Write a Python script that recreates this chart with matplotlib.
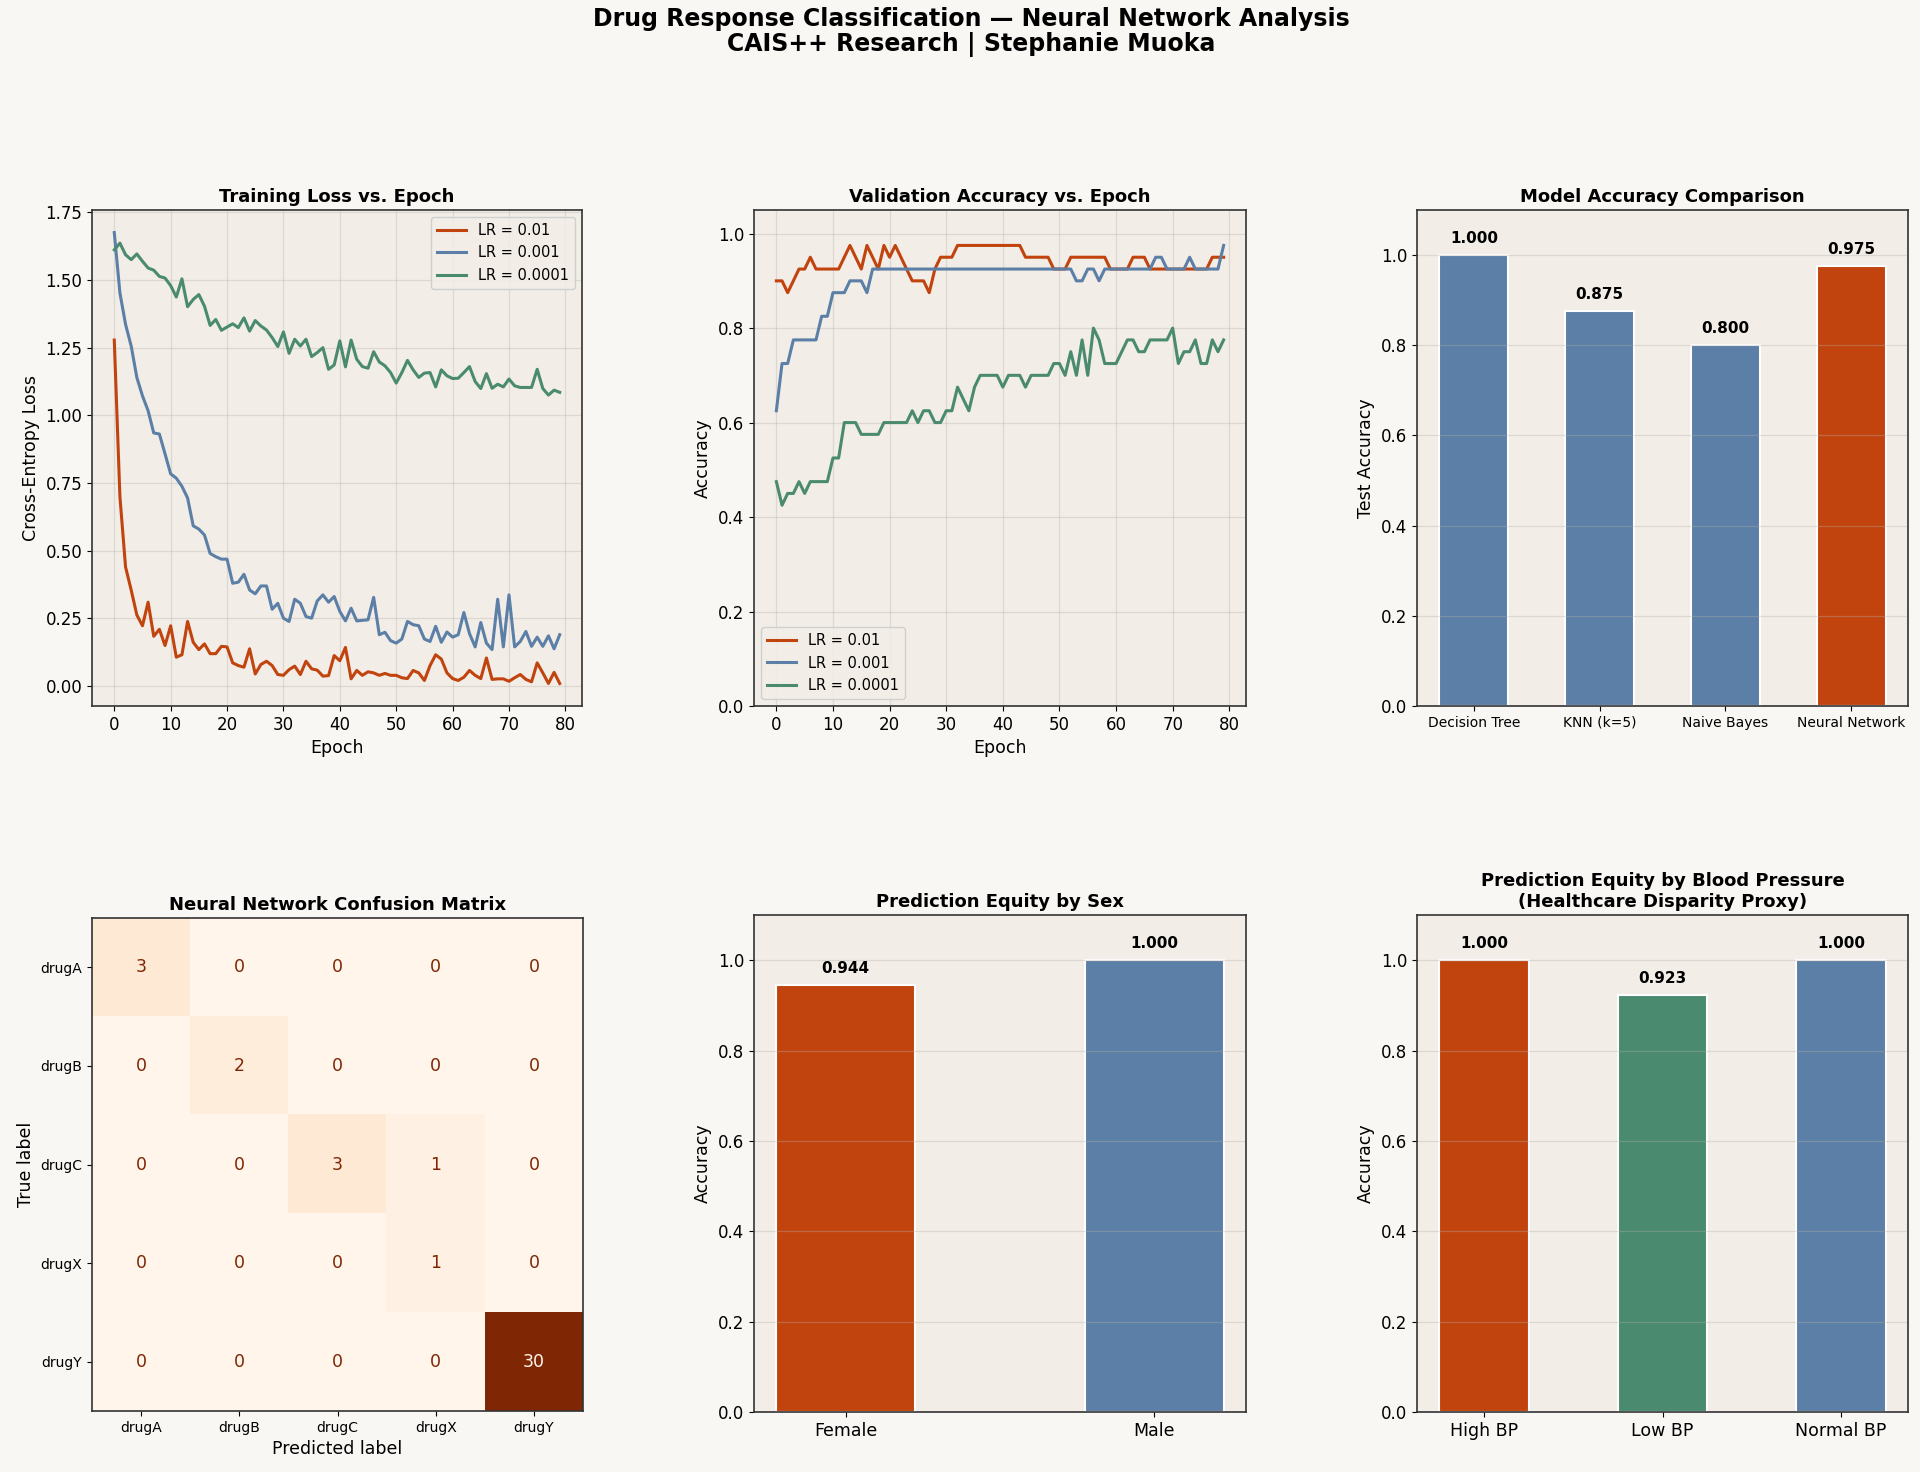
"""Drug response classification dashboard: training curves, model comparison, fairness bars."""

import matplotlib
matplotlib.use("Agg")
import matplotlib.pyplot as plt
import numpy as np

# ---- data ----
EPOCHS = list(range(80))

LOSS_LR_01 = [1.278, 0.70, 0.44, 0.355, 0.263, 0.223, 0.31, 0.184, 0.21, 0.15,
              0.223, 0.107, 0.116, 0.239, 0.162, 0.135, 0.156, 0.12, 0.12, 0.147,
              0.145, 0.086, 0.076, 0.07, 0.138, 0.045, 0.08, 0.092, 0.076, 0.043,
              0.04, 0.061, 0.074, 0.043, 0.092, 0.064, 0.059, 0.037, 0.039, 0.113,
              0.094, 0.143, 0.027, 0.058, 0.04, 0.053, 0.049, 0.04, 0.047, 0.04,
              0.04, 0.031, 0.028, 0.058, 0.049, 0.021, 0.076, 0.116, 0.10, 0.049,
              0.028, 0.021, 0.033, 0.058, 0.04, 0.028, 0.104, 0.025, 0.027, 0.027,
              0.018, 0.031, 0.043, 0.025, 0.016, 0.086, 0.049, 0.01, 0.051, 0.01]
LOSS_LR_001 = [1.675, 1.452, 1.336, 1.256, 1.14, 1.072, 1.017, 0.935, 0.931, 0.858,
               0.784, 0.768, 0.738, 0.695, 0.592, 0.58, 0.558, 0.49, 0.478, 0.469,
               0.469, 0.38, 0.384, 0.413, 0.355, 0.341, 0.37, 0.37, 0.284, 0.306,
               0.251, 0.239, 0.321, 0.306, 0.257, 0.251, 0.315, 0.337, 0.31, 0.331,
               0.276, 0.241, 0.288, 0.241, 0.243, 0.245, 0.328, 0.19, 0.199, 0.168,
               0.159, 0.174, 0.239, 0.227, 0.223, 0.174, 0.165, 0.221, 0.162, 0.20,
               0.181, 0.19, 0.272, 0.194, 0.145, 0.235, 0.159, 0.135, 0.321, 0.145,
               0.337, 0.145, 0.165, 0.202, 0.147, 0.181, 0.147, 0.186, 0.138, 0.19]
LOSS_LR_0001 = [1.611, 1.636, 1.593, 1.575, 1.596, 1.569, 1.544, 1.536, 1.513, 1.507,
                1.479, 1.437, 1.504, 1.401, 1.428, 1.446, 1.403, 1.332, 1.354, 1.314,
                1.326, 1.338, 1.324, 1.36, 1.311, 1.35, 1.33, 1.315, 1.287, 1.254,
                1.308, 1.229, 1.281, 1.256, 1.281, 1.217, 1.232, 1.25, 1.17, 1.186,
                1.275, 1.179, 1.278, 1.207, 1.18, 1.174, 1.235, 1.197, 1.183, 1.158,
                1.119, 1.158, 1.203, 1.168, 1.14, 1.156, 1.158, 1.105, 1.168, 1.146,
                1.136, 1.137, 1.158, 1.18, 1.125, 1.099, 1.154, 1.10, 1.115, 1.105,
                1.134, 1.109, 1.103, 1.103, 1.103, 1.17, 1.099, 1.075, 1.093, 1.085]

ACC_LR_01 = [0.9, 0.9, 0.875, 0.9, 0.925, 0.925, 0.95, 0.925, 0.925, 0.925,
             0.925, 0.925, 0.95, 0.975, 0.95, 0.925, 0.975, 0.95, 0.925, 0.975,
             0.95, 0.975, 0.95, 0.925, 0.9, 0.9, 0.9, 0.875, 0.925, 0.95,
             0.95, 0.95, 0.975, 0.975, 0.975, 0.975, 0.975, 0.975, 0.975, 0.975,
             0.975, 0.975, 0.975, 0.975, 0.95, 0.95, 0.95, 0.95, 0.95, 0.925,
             0.925, 0.925, 0.95, 0.95, 0.95, 0.95, 0.95, 0.95, 0.95, 0.925,
             0.925, 0.925, 0.925, 0.95, 0.95, 0.95, 0.925, 0.925, 0.925, 0.925,
             0.925, 0.925, 0.925, 0.925, 0.925, 0.925, 0.925, 0.95, 0.95, 0.95]
ACC_LR_001 = [0.625, 0.725, 0.725, 0.775, 0.775, 0.775, 0.775, 0.775, 0.825, 0.825,
              0.875, 0.875, 0.875, 0.9, 0.9, 0.9, 0.875, 0.925, 0.925, 0.925,
              0.925, 0.925, 0.925, 0.925, 0.925, 0.925, 0.925, 0.925, 0.925, 0.925,
              0.925, 0.925, 0.925, 0.925, 0.925, 0.925, 0.925, 0.925, 0.925, 0.925,
              0.925, 0.925, 0.925, 0.925, 0.925, 0.925, 0.925, 0.925, 0.925, 0.925,
              0.925, 0.925, 0.925, 0.9, 0.9, 0.925, 0.925, 0.9, 0.925, 0.925,
              0.925, 0.925, 0.925, 0.925, 0.925, 0.925, 0.925, 0.95, 0.95, 0.925,
              0.925, 0.925, 0.925, 0.95, 0.925, 0.925, 0.925, 0.925, 0.925, 0.975]
ACC_LR_0001 = [0.475, 0.425, 0.45, 0.45, 0.475, 0.45, 0.475, 0.475, 0.475, 0.475,
               0.525, 0.525, 0.6, 0.6, 0.6, 0.575, 0.575, 0.575, 0.575, 0.6,
               0.6, 0.6, 0.6, 0.6, 0.625, 0.6, 0.625, 0.625, 0.6, 0.6,
               0.625, 0.625, 0.675, 0.65, 0.625, 0.675, 0.7, 0.7, 0.7, 0.7,
               0.675, 0.7, 0.7, 0.7, 0.675, 0.7, 0.7, 0.7, 0.7, 0.725,
               0.725, 0.7, 0.75, 0.7, 0.775, 0.7, 0.8, 0.775, 0.725, 0.725,
               0.725, 0.75, 0.775, 0.775, 0.75, 0.75, 0.775, 0.775, 0.775, 0.775,
               0.8, 0.725, 0.75, 0.75, 0.775, 0.725, 0.725, 0.775, 0.75, 0.775]

MODELS = ["Decision Tree", "KNN (k=5)", "Naive Bayes", "Neural Network"]
MODEL_ACC = [1.000, 0.875, 0.800, 0.975]

DRUGS = ["drugA", "drugB", "drugC", "drugX", "drugY"]
CONFUSION = [[3, 0, 0, 0, 0],
             [0, 2, 0, 0, 0],
             [0, 0, 3, 1, 0],
             [0, 0, 0, 1, 0],
             [0, 0, 0, 0, 30]]

SEX_GROUPS = ["Female", "Male"]
SEX_ACC = [0.944, 1.000]

BP_GROUPS = ["High BP", "Low BP", "Normal BP"]
BP_ACC = [1.000, 0.923, 1.000]

# ---- style ----
RUST = "#C1440E"
BLUE = "#5B7FA6"
GREEN = "#4A8B6F"
FIG_BG = "#F9F7F4"
AX_BG = "#F2EDE7"

plt.rcParams.update({
    "font.family": "DejaVu Sans",
    "font.size": 12,
    "axes.facecolor": AX_BG,
    "figure.facecolor": FIG_BG,
    "axes.edgecolor": "#333333",
    "axes.linewidth": 1.2,
    "axes.titlesize": 13,
    "axes.titleweight": "bold",
    "axes.labelsize": 12.5,
    "xtick.labelsize": 12,
    "ytick.labelsize": 12,
    "grid.color": "#b8b0a8",
    "grid.alpha": 0.35,
    "grid.linewidth": 0.9,
    "legend.fontsize": 10.5,
})

fig = plt.figure(figsize=(19.2, 14.72), dpi=100)
W, H = 1920, 1472


def place(x0, y0, x1, y1):
    return fig.add_axes([x0 / W, 1 - y1 / H, (x1 - x0) / W, (y1 - y0) / H])


ax_loss = place(92, 210, 582, 706)
ax_val = place(754, 210, 1246, 706)
ax_cmp = place(1417, 210, 1908, 706)
ax_cm = place(92, 918, 583, 1411)
ax_sex = place(754, 915, 1246, 1412)
ax_bp = place(1417, 915, 1908, 1412)

# training loss
ax_loss.plot(EPOCHS, LOSS_LR_01, color=RUST, lw=2.2, label="LR = 0.01")
ax_loss.plot(EPOCHS, LOSS_LR_001, color=BLUE, lw=2.2, label="LR = 0.001")
ax_loss.plot(EPOCHS, LOSS_LR_0001, color=GREEN, lw=2.2, label="LR = 0.0001")
ax_loss.set_title("Training Loss vs. Epoch")
ax_loss.set_xlabel("Epoch")
ax_loss.set_ylabel("Cross-Entropy Loss")
ax_loss.set_xticks(range(0, 81, 10))
ax_loss.grid(True)
ax_loss.legend(loc="upper right", fancybox=True, framealpha=0.9)

# validation accuracy
ax_val.plot(EPOCHS, ACC_LR_01, color=RUST, lw=2.2, label="LR = 0.01")
ax_val.plot(EPOCHS, ACC_LR_001, color=BLUE, lw=2.2, label="LR = 0.001")
ax_val.plot(EPOCHS, ACC_LR_0001, color=GREEN, lw=2.2, label="LR = 0.0001")
ax_val.set_title("Validation Accuracy vs. Epoch")
ax_val.set_xlabel("Epoch")
ax_val.set_ylabel("Accuracy")
ax_val.set_ylim(0, 1.05)
ax_val.set_xticks(range(0, 81, 10))
ax_val.grid(True)
ax_val.legend(loc="lower left", fancybox=True, framealpha=0.9)


def bar_panel(ax, labels, values, colors, width, title, ylabel, tick_size):
    x = np.arange(len(labels))
    ax.bar(x, values, width=width, color=colors, edgecolor="white", linewidth=1.5)
    for xi, v in zip(x, values):
        ax.text(xi, v + 0.02, f"{v:.3f}", ha="center", va="bottom",
                fontsize=11, fontweight="bold")
    ax.set_xticks(x)
    ax.set_xticklabels(labels, fontsize=tick_size)
    ax.set_ylim(0, 1.1)
    ax.set_title(title)
    ax.set_ylabel(ylabel)
    ax.grid(True, axis="y")


bar_panel(ax_cmp, MODELS, MODEL_ACC, [BLUE, BLUE, BLUE, RUST], 0.55,
          "Model Accuracy Comparison", "Test Accuracy", 10)
bar_panel(ax_sex, SEX_GROUPS, SEX_ACC, [RUST, BLUE], 0.45,
          "Prediction Equity by Sex", "Accuracy", 12.5)
bar_panel(ax_bp, BP_GROUPS, BP_ACC, [RUST, GREEN, BLUE], 0.5,
          "Prediction Equity by Blood Pressure\n(Healthcare Disparity Proxy)", "Accuracy", 12.5)

# confusion matrix
cm = np.array(CONFUSION)
cmap = plt.get_cmap("Oranges")
ax_cm.imshow(cm, cmap=cmap, interpolation="nearest", aspect="auto")
thresh = (cm.max() + cm.min()) / 2
for i in range(cm.shape[0]):
    for j in range(cm.shape[1]):
        ax_cm.text(j, i, str(cm[i, j]), ha="center", va="center", fontsize=12.5,
                   color=cmap(0.0) if cm[i, j] > thresh else cmap(1.0))
ax_cm.set_xticks(range(len(DRUGS)))
ax_cm.set_yticks(range(len(DRUGS)))
ax_cm.set_xticklabels(DRUGS, fontsize=10)
ax_cm.set_yticklabels(DRUGS, fontsize=10)
ax_cm.set_xlabel("Predicted label")
ax_cm.set_ylabel("True label")
ax_cm.set_title("Neural Network Confusion Matrix")

fig.suptitle("Drug Response Classification \u2014 Neural Network Analysis\nCAIS++ Research | Stephanie Muoka",
             x=0.506, y=0.995, va="top", fontsize=17, fontweight="bold", linespacing=1.05)

fig.savefig("out.png", dpi=100, facecolor=FIG_BG)
plt.close(fig)
